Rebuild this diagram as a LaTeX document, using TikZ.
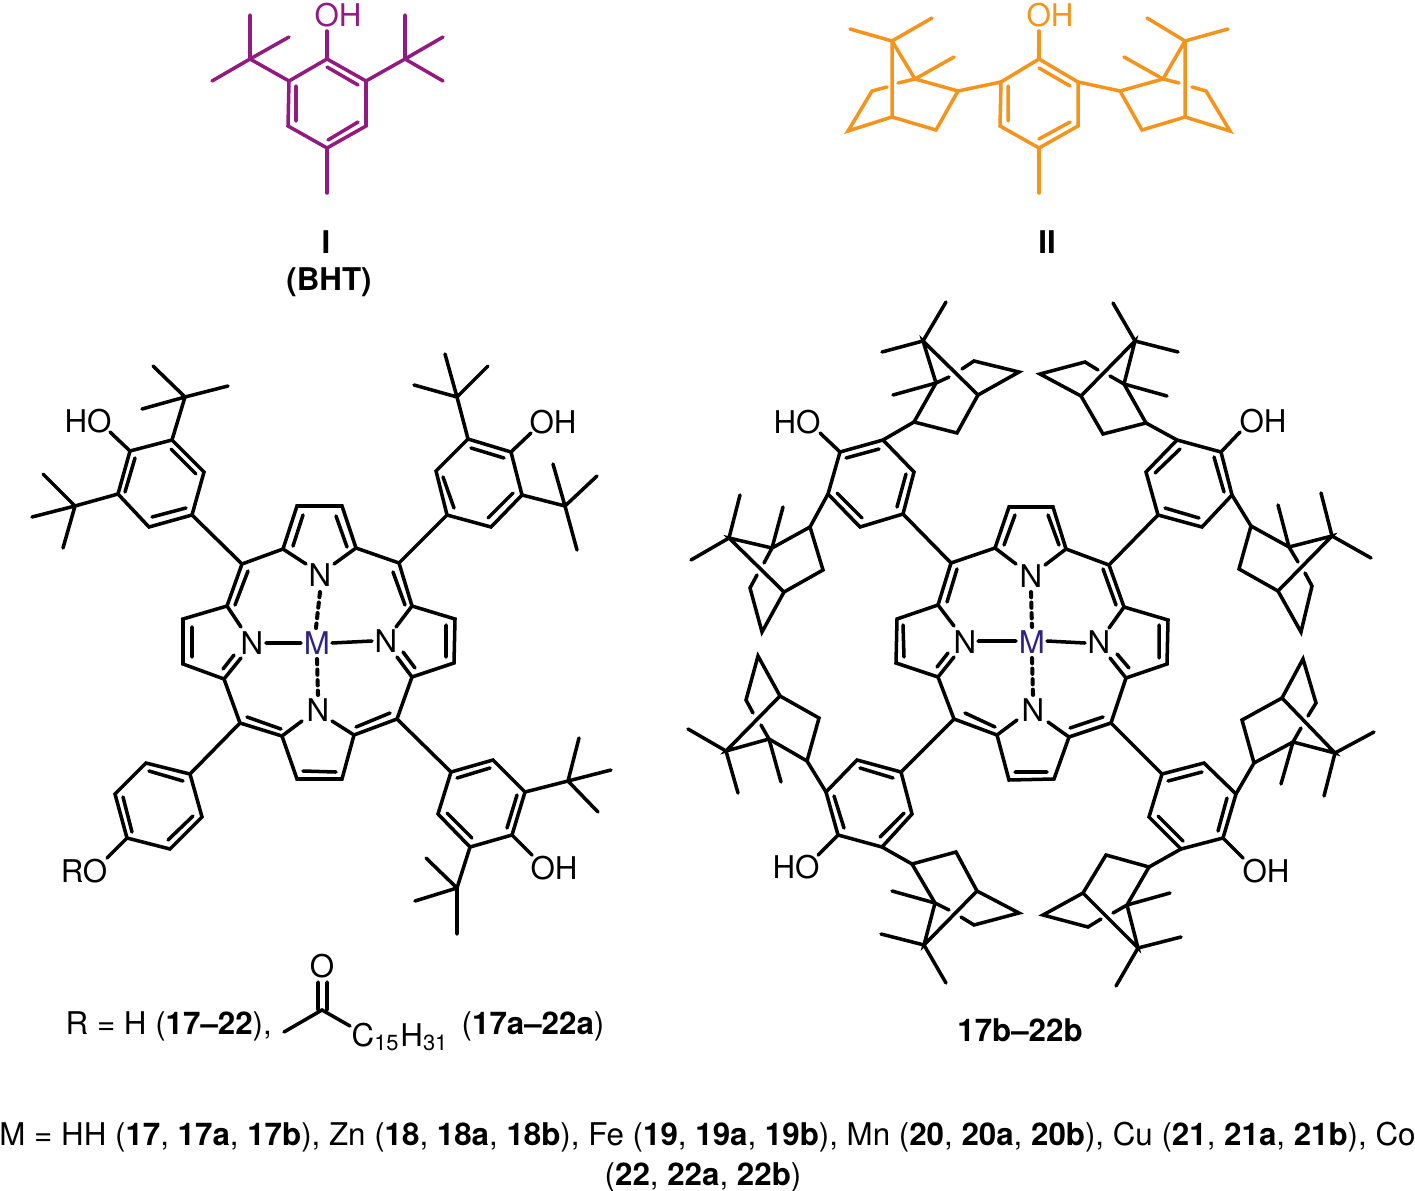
\documentclass[tikz,border=0pt]{standalone}
\usepackage{fontspec}
\setmainfont{TeX Gyre Heros}
\definecolor{bhtpurple}{HTML}{931A80}
\definecolor{campheneorange}{HTML}{F5941D}
\definecolor{metalblue}{HTML}{2E2383}
\tikzset{
	bond/.style={line width=1pt, line cap=round, line join=miter},
	coordbond/.style={line width=1.15pt, dash pattern=on 1.5pt off 1.5pt},
	lbl/.style={anchor=base, inner sep=0pt, font=\fontsize{8.9}{10}\selectfont}
}
\begin{document}
\begin{tikzpicture}[x=0.01cm, y=-0.01cm]
	\useasboundingbox (0,0) rectangle (1415,1191);

	\draw[bond, bhtpurple] (327,59) -- (366,81) -- (366,126) -- (327,148) -- (288,126) -- (289,81) -- cycle;
	\draw[bond, bhtpurple] (327,67) -- (358,85) (296,86) -- (296,121) (358,122) -- (328,140);
	\draw[bond, bhtpurple] (327,59) -- (327,31) (327,148) -- (327,193);
	\draw[bond, bhtpurple] (289,81) -- (250,59) (250,15) -- (250,59) (289,37) -- (250,59) (212,81) -- (250,59);
	\draw[bond, bhtpurple] (366,81) -- (405,59) (405,15) -- (405,59) (443,37) -- (405,59) (443,81) -- (405,59);
	\node[lbl, bhtpurple] (ohbht) at (338,27) {OH};
	\node[lbl] (labeli) at (326,253) {\textbf{I}};
	\node[lbl] (labelbht) at (329,291) {\textbf{(BHT)}};

	\draw[bond, campheneorange] (1039,59) -- (1078,82) -- (1078,126) -- (1039,148) -- (1000,126) -- (1001,82) -- cycle;
	\draw[bond, campheneorange] (1039,68) -- (1070,86) (1070,122) -- (1039,139) (1008,86) -- (1008,121);
	\draw[bond, campheneorange] (1039,59) -- (1039,31) (1039,148) -- (1039,193);
	\draw[bond, campheneorange] (1001,82) -- (958,91) -- (936,130) -- (892,117) -- (848,131) -- (872,91) -- (887,87);
	\draw[bond, campheneorange] (898,83) -- (915,79) -- (958,91) (892,41) -- (892,117) (892,41) -- (915,79);
	\draw[bond, campheneorange] (892,41) -- (850,29) (892,41) -- (932,18) (915,79) -- (954,57);
	\draw[bond, campheneorange] (1078,82) -- (1120,91) -- (1142,130) -- (1185,117) -- (1230,131) -- (1206,91) -- (1192,87);
	\draw[bond, campheneorange] (1179,83) -- (1163,79) -- (1120,91) (1185,41) -- (1185,117) (1185,41) -- (1163,79);
	\draw[bond, campheneorange] (1185,41) -- (1228,29) (1185,41) -- (1147,18) (1163,79) -- (1124,57);
	\node[lbl, campheneorange] (ohcamph) at (1050,27) {OH};
	\node[lbl] (labelii) at (1047,253) {\textbf{II}};

	\draw[bond] (242,564) -- (283,549) -- (297,506) -- (342,506) -- (356,548) -- (399,563) -- (412,606) -- (455,619) -- (454,663) -- (412,677) -- (397,719) -- (354,735) -- (342,779) -- (297,779) -- (282,736) -- (240,723) -- (224,679) -- (183,664) -- (183,619) -- (227,606) -- cycle;
	\draw[bond] (248,571) -- (235,605) (303,515) -- (293,546) (336,516) -- (347,547) (393,572) -- (405,605);
	\draw[bond] (446,625) -- (446,657) (390,713) -- (356,727) (336,772) -- (303,771) (281,729) -- (247,717) (192,657) -- (192,627);
	\draw[bond] (283,549) -- (306,564) (356,548) -- (334,564) (227,606) -- (241,627) (412,606) -- (396,627);
	\draw[bond] (224,679) -- (241,658) (223,669) -- (234,655) (412,677) -- (397,657) (415,668) -- (403,652);
	\draw[bond] (282,736) -- (302,721) (354,735) -- (332,721);
	\draw[bond] (266,643) -- (301,643) (332,643) -- (372,641);
	\draw[bond, coordbond] (320,592) -- (316,628) (317,659) -- (318,695);
	\node[lbl] (nt) at (320,586) {N};
	\node[lbl] (nl) at (252,654) {N};
	\node[lbl] (nr) at (386,652) {N};
	\node[lbl] (nb) at (318,721) {N};
	\node[lbl, metalblue] (metal) at (317,654) {M};

	\draw[bond] (242,564) -- (192,515) -- (149,527) -- (118,494) -- (130,451) -- (172,440) -- (204,472) -- (192,515);
	\draw[bond] (171,449) -- (196,474) (186,508) -- (152,517) (125,492) -- (135,458);
	\draw[bond] (130,451) -- (110,432) (172,440) -- (185,397) (153,366) -- (185,397) (228,386) -- (185,397) (142,409) -- (185,397);
	\draw[bond] (118,494) -- (75,506) (43,474) -- (75,506) (32,517) -- (75,506) (63,548) -- (75,506);
	\node[lbl] (hotl) at (88,432) {HO};

	\draw[bond] (399,563) -- (447,515) -- (491,527) -- (522,495) -- (511,452) -- (468,439) -- (436,471) -- (447,515);
	\draw[bond] (443,477) -- (454,508) (488,518) -- (513,493) (471,448) -- (504,458);
	\draw[bond] (511,452) -- (531,433) (468,439) -- (457,397) (445,354) -- (457,397) (488,366) -- (457,397) (414,385) -- (457,397);
	\draw[bond] (522,495) -- (565,506) (553,464) -- (565,506) (597,476) -- (565,506) (577,550) -- (565,506);
	\node[lbl] (ohtr) at (553,433) {OH};

	\draw[bond] (240,723) -- (190,774) -- (146,763) -- (115,794) -- (127,838) -- (170,849) -- (202,817) -- (190,774);
	\draw[bond] (149,771) -- (183,781) (123,797) -- (132,832) (168,840) -- (193,816);
	\draw[bond] (127,838) -- (107,858);
	\node[lbl] (robl) at (84,882) {RO};

	\draw[bond] (397,719) -- (451,772) -- (493,760) -- (525,792) -- (512,835) -- (470,847) -- (438,814) -- (451,772);
	\draw[bond] (457,778) -- (490,768) (517,795) -- (507,828) (447,813) -- (472,838);
	\draw[bond] (512,835) -- (532,855) (525,792) -- (568,781) (579,738) -- (568,781) (611,770) -- (568,781) (598,812) -- (568,781);
	\draw[bond] (470,847) -- (457,888) (426,858) -- (457,888) (415,901) -- (457,888) (457,934) -- (457,888);
	\node[lbl] (ohbr) at (554,879) {OH};

	\draw[bond] (951,563) -- (995,548) -- (1009,507) -- (1053,507) -- (1066,549) -- (1109,565) -- (1124,607) -- (1168,620) -- (1167,664) -- (1126,678) -- (1111,723) -- (1069,737) -- (1054,779) -- (1009,780) -- (997,735) -- (954,719) -- (938,677) -- (896,663) -- (897,619) -- (938,605) -- cycle;
	\draw[bond] (957,569) -- (947,602) (1015,515) -- (1004,545) (1048,515) -- (1059,545) (1103,569) -- (1116,605);
	\draw[bond] (1159,625) -- (1159,658) (1103,717) -- (1070,728) (1047,772) -- (1015,772) (995,727) -- (965,713) (904,657) -- (903,625);
	\draw[bond] (995,548) -- (1016,564) (1066,549) -- (1045,565) (938,605) -- (954,626) (1124,607) -- (1109,628);
	\draw[bond] (938,677) -- (954,657) (937,667) -- (948,653) (1126,678) -- (1110,658) (1129,668) -- (1117,654);
	\draw[bond] (997,735) -- (1017,720) (1069,737) -- (1048,722);
	\draw[bond] (978,641) -- (1016,641) (1047,641) -- (1085,643);
	\draw[bond, coordbond] (1031,592) -- (1032,627) (1032,658) -- (1033,695);
	\node[lbl] (ntb) at (1031,587) {N};
	\node[lbl] (nlb) at (965,653) {N};
	\node[lbl] (nrb) at (1099,653) {N};
	\node[lbl] (nbb) at (1033,721) {N};
	\node[lbl, metalblue] (metalb) at (1032,653) {M};

	\draw[bond] (951,563) -- (903,514) -- (860,527) -- (828,494) -- (840,452) -- (883,440) -- (914,472) -- (903,514);
	\draw[bond] (846,458) -- (879,449) (906,474) -- (897,507) (862,518) -- (837,493);
	\draw[bond] (840,452) -- (820,433);
	\node[lbl] (hotlb) at (797,433) {HO};
	\draw[bond] (883,440) -- (914,422) -- (957,433) -- (978,395) -- (1019,372) -- (974,361) -- (962,369);
	\draw[bond] (949,377) -- (936,383) -- (914,422) (936,383) -- (923,341) -- (978,395);
	\draw[bond] (923,341) -- (946,302) (923,341) -- (882,352) (936,383) -- (893,395);
	\draw[bond] (828,494) -- (810,527) -- (823,570) -- (784,592) -- (762,632) -- (750,588) -- (757,575);
	\draw[bond] (764,563) -- (772,548) -- (810,527) (772,548) -- (729,538) -- (784,592);
	\draw[bond] (729,538) -- (740,495) (729,538) -- (691,560) (772,548) -- (783,507);

	\draw[bond] (1109,565) -- (1158,515) -- (1202,527) -- (1232,495) -- (1221,452) -- (1177,440) -- (1146,472) -- (1158,515);
	\draw[bond] (1165,508) -- (1199,518) (1224,492) -- (1214,457) (1180,449) -- (1155,473);
	\draw[bond] (1221,452) -- (1240,432);
	\node[lbl] (ohtrb) at (1263,432) {OH};
	\draw[bond] (1177,440) -- (1146,423) -- (1103,434) -- (1081,396) -- (1040,374) -- (1085,362) -- (1098,370);
	\draw[bond] (1110,376) -- (1124,384) -- (1146,423) (1124,384) -- (1135,341) -- (1081,396);
	\draw[bond] (1135,341) -- (1113,303) (1135,341) -- (1178,352) (1124,384) -- (1167,396);
	\draw[bond] (1232,495) -- (1251,526) -- (1239,569) -- (1278,591) -- (1301,632) -- (1312,586) -- (1305,573);
	\draw[bond] (1298,562) -- (1289,547) -- (1251,526) (1289,547) -- (1332,536) -- (1278,591);
	\draw[bond] (1332,536) -- (1321,493) (1332,536) -- (1371,558) (1289,547) -- (1278,505);

	\draw[bond] (954,719) -- (901,772) -- (857,760) -- (826,792) -- (838,835) -- (882,847) -- (912,814) -- (901,772);
	\draw[bond] (860,768) -- (893,778) (834,796) -- (844,828) (880,837) -- (904,813);
	\draw[bond] (838,835) -- (818,855);
	\node[lbl] (roblb) at (796,878) {HO};
	\draw[bond] (826,792) -- (807,761) -- (819,718) -- (780,696) -- (758,656) -- (746,700) -- (753,713);
	\draw[bond] (761,725) -- (769,739) -- (807,761) (769,739) -- (726,751) -- (780,696);
	\draw[bond] (726,751) -- (688,729) (726,751) -- (738,793) (769,739) -- (781,782);
	\draw[bond] (882,847) -- (912,864) -- (956,852) -- (977,891) -- (1019,913) -- (974,925) -- (961,917);
	\draw[bond] (949,910) -- (935,903) -- (912,864) (935,903) -- (924,945) -- (977,891);
	\draw[bond] (924,945) -- (946,983) (924,945) -- (881,934) (935,903) -- (892,891);

	\draw[bond] (1111,723) -- (1162,774) -- (1204,763) -- (1236,794) -- (1223,838) -- (1181,849) -- (1149,817) -- (1162,774);
	\draw[bond] (1168,781) -- (1202,772) (1227,798) -- (1218,831) (1183,841) -- (1158,816);
	\draw[bond] (1223,838) -- (1243,858);
	\node[lbl] (ohbrb) at (1266,882) {OH};
	\draw[bond] (1236,794) -- (1254,763) -- (1242,720) -- (1282,698) -- (1303,659) -- (1316,703) -- (1308,716);
	\draw[bond] (1301,728) -- (1293,742) -- (1254,763) (1293,742) -- (1335,753) -- (1282,698);
	\draw[bond] (1335,753) -- (1374,732) (1335,753) -- (1324,796) (1293,742) -- (1281,784);
	\draw[bond] (1181,849) -- (1149,867) -- (1106,855) -- (1083,893) -- (1043,915) -- (1088,927) -- (1101,919);
	\draw[bond] (1113,913) -- (1127,905) -- (1149,867) (1127,905) -- (1138,948) -- (1083,893);
	\draw[bond] (1138,948) -- (1116,986) (1138,948) -- (1181,937) (1127,905) -- (1170,893);

	\draw[bond] (284,1032) -- (322,1010) -- (350,1026) (318,1010) -- (318,982) (327,1010) -- (327,982);
	\node[lbl] (oxo) at (322,977) {O};
	\node[lbl, anchor=base west] (rlabel) at (65,1034) {R = H (\textbf{17--22}),};
	\node[lbl, anchor=base west] (acyl) at (351,1046) {C$_{\mathrm{15}}$H$_{\mathrm{31}}$};
	\node[lbl, anchor=base west] (rlabelb) at (461,1034) {(\textbf{17a--22a})};
	\node[lbl] (labelb) at (1020,1041) {\textbf{17b--22b}};
	\node[lbl] (metals) at (707.5,1145) {M = HH (\textbf{17}, \textbf{17a}, \textbf{17b}), Zn (\textbf{18}, \textbf{18a}, \textbf{18b}), Fe (\textbf{19}, \textbf{19a}, \textbf{19b}), Mn (\textbf{20}, \textbf{20a}, \textbf{20b}), Cu (\textbf{21}, \textbf{21a}, \textbf{21b}), Co};
	\node[lbl] (metalsb) at (703,1185) {(\textbf{22}, \textbf{22a}, \textbf{22b})};
\end{tikzpicture}
\end{document}
